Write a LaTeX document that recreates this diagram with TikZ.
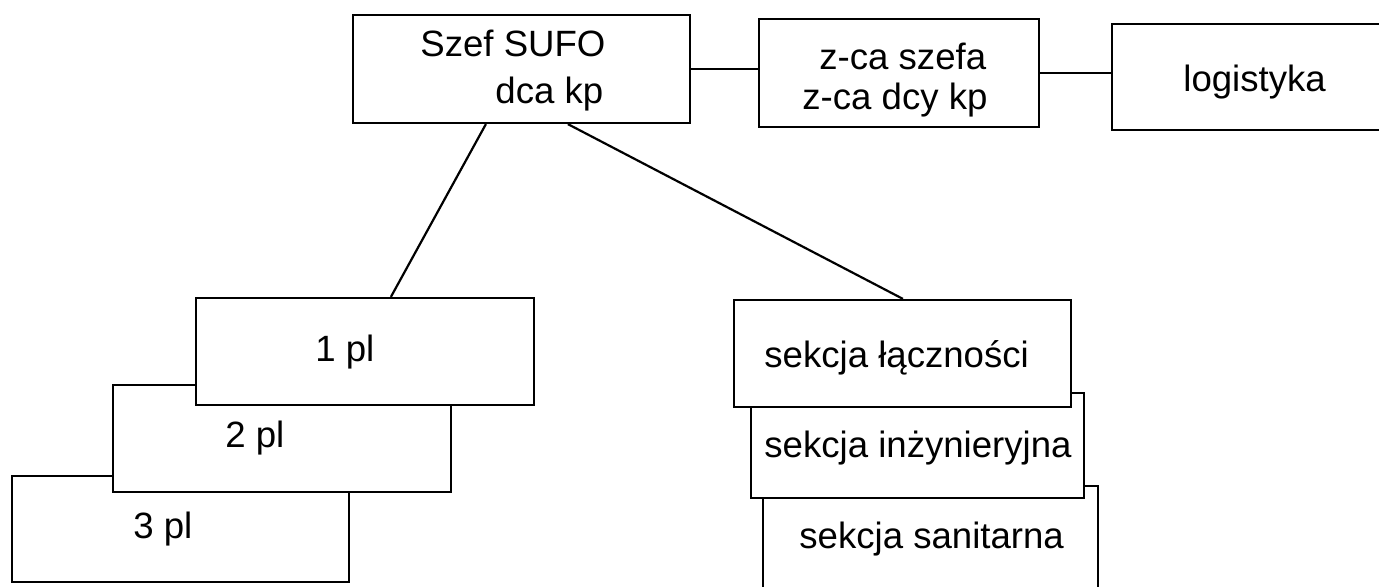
\documentclass[tikz,border=0pt]{standalone}
\usepackage{fontspec}
\setmainfont{Liberation Sans}
\usetikzlibrary{calc}
\begin{document}
\begin{tikzpicture}[x=0.5pt,y=-0.5pt,
  box/.style={draw=black,line width=1.1pt,fill=white,rectangle,inner sep=0pt},
  lbl/.style={anchor=base west,inner sep=0pt,font=\fontsize{18.3}{22}\selectfont},
  conn/.style={draw=black,line width=1.1pt}]
\useasboundingbox (0,0) rectangle (1379,587);
% top row
\node[box,minimum width=168.5pt,minimum height=54pt] (szef) at (521.5,69) {};
\node[box,minimum width=140pt,minimum height=54pt] (zca) at (899,73) {};
\node[box,minimum width=160pt,minimum height=53pt] (log) at (1272,77) {};
% pl stack (back to front)
\node[box,minimum width=168.5pt,minimum height=53pt] (pl3) at (180.5,529) {};
\node[box,minimum width=169pt,minimum height=53.5pt] (pl2) at (282,438.5) {};
\node[box,minimum width=169pt,minimum height=53.5pt] (pl1) at (365,351.5) {};
% sekcja stack (back to front)
\node[box,minimum width=167.5pt,minimum height=57pt] (san) at (930.5,543) {};
\node[box,minimum width=166.5pt,minimum height=52.5pt] (inz) at (917.5,445.5) {};
\node[box,minimum width=168.5pt,minimum height=53.5pt] (lacz) at (902.5,353.5) {};
% connectors
\draw[conn] (szef.east) -- (szef.east -| zca.west);
\draw[conn] (zca.east) -- (zca.east -| log.west);
\draw[conn] ($(szef.south west)+(134,0)$) -- ($(pl1.north west)+(196,0)$);
\draw[conn] ($(szef.south west)+(216,0)$) -- ($(lacz.north west)+(170,0)$);
% texts
\node[lbl] (t1) at (420,57) {Szef SUFO};
\node[lbl] (t2) at (495,104) {dca kp};
\node[lbl] (t3) at (819,70) {z-ca szefa};
\node[lbl] (t4) at (802,110) {z-ca dcy kp};
\node[lbl] (t5) at (1183,92) {logistyka};
\node[lbl] (t6) at (315,361) {1 pl};
\node[lbl] (t7) at (225,447) {2 pl};
\node[lbl] (t8) at (133,538) {3 pl};
\node[lbl] (t9) at (764,367) {sekcja łączności};
\node[lbl] (t10) at (764,457) {sekcja inżynieryjna};
\node[lbl] (t11) at (799,548) {sekcja sanitarna};
\end{tikzpicture}
\end{document}
